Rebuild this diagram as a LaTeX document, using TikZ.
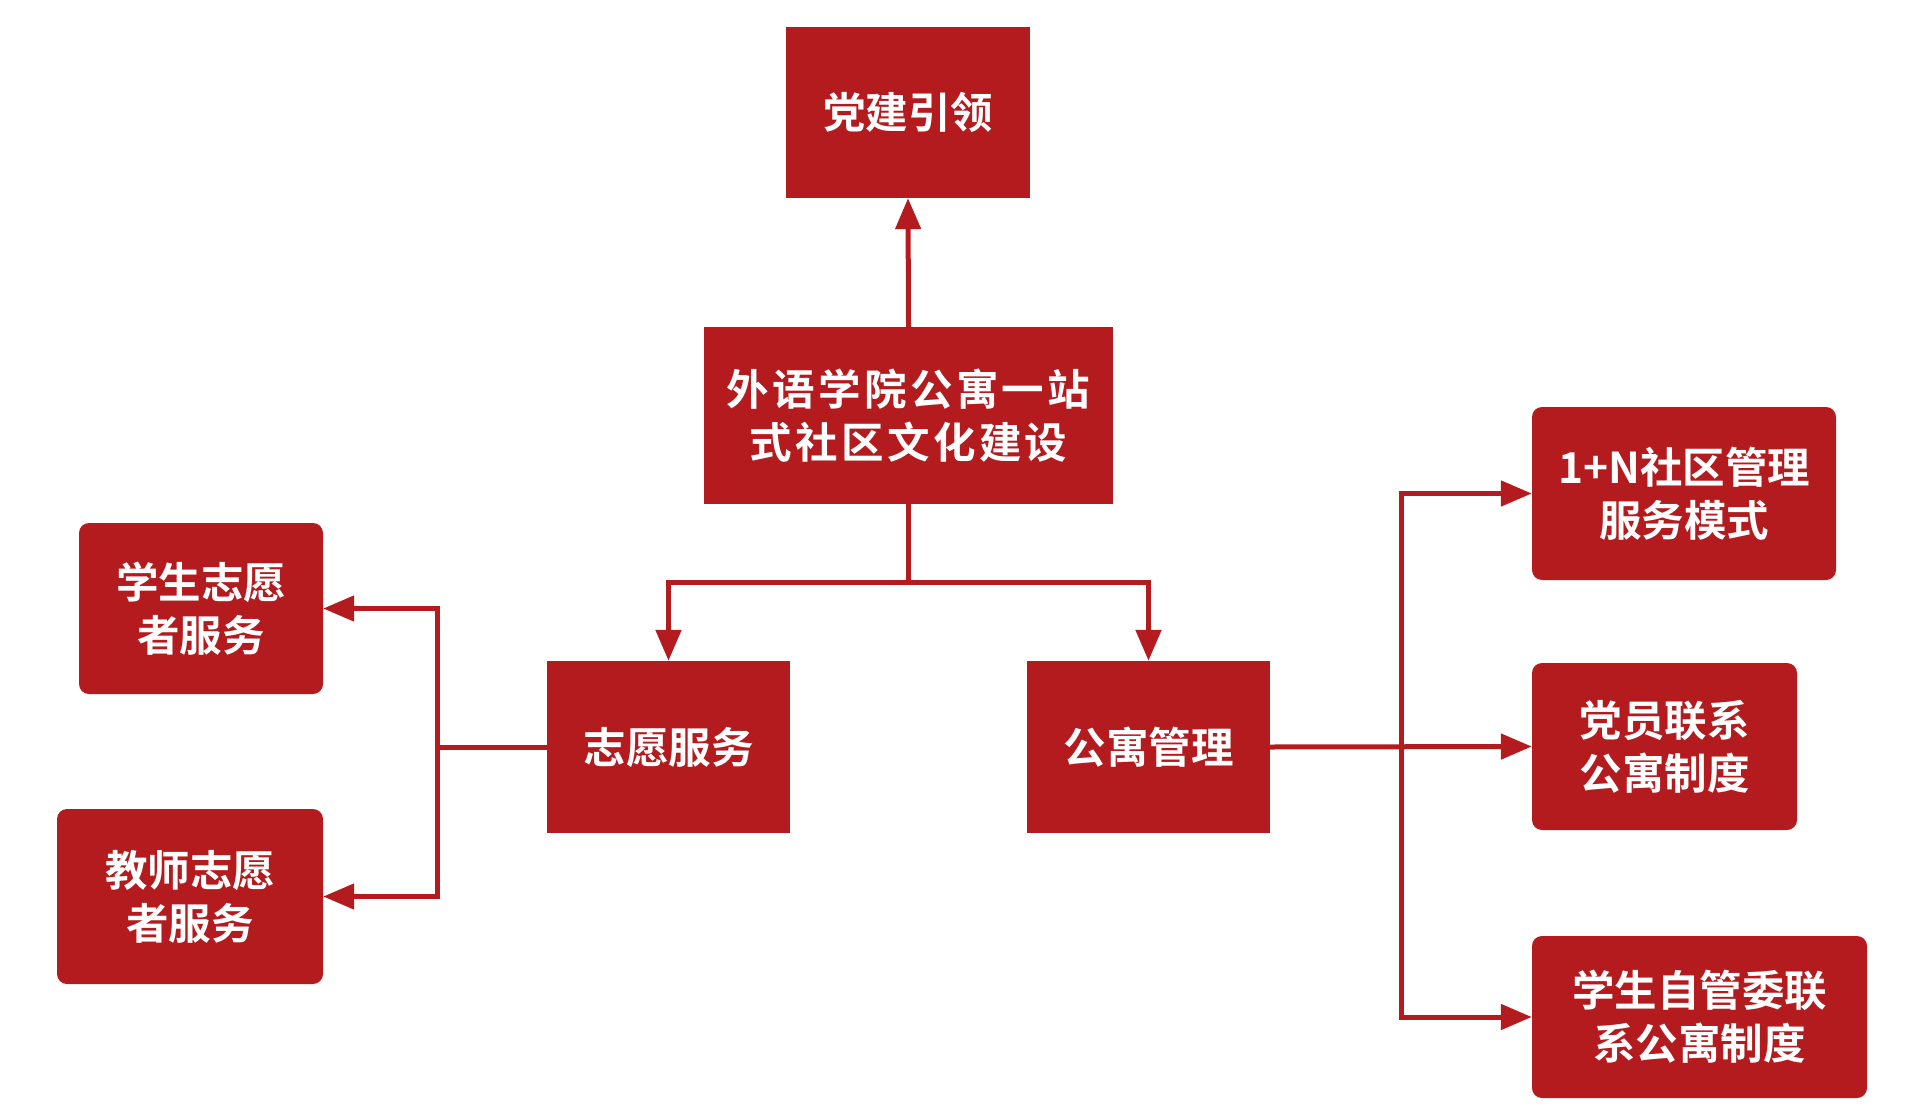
\documentclass[tikz,border=0pt]{standalone}
\usepackage{fontspec}
\newfontfamily\cjk{Noto Sans CJK SC Bold}
\usetikzlibrary{arrows.meta}
\definecolor{boxred}{RGB}{179,27,30}
\tikzset{
  box/.style={fill=boxred, draw=none, text=white, align=center, inner sep=0pt,
    font=\cjk\fontsize{42.5}{53}\selectfont},
  sqbox/.style={box},
  rbox/.style={box, rounded corners=10pt},
  conn/.style={draw=boxred, line width=5pt},
  arr/.style={conn, -{Triangle[length=31pt,width=25pt]}},
}
\begin{document}
\begin{tikzpicture}[x=1pt,y=-1pt]
\useasboundingbox (0,0) rectangle (1926,1110);
\node[sqbox, minimum width=244pt, minimum height=171pt] (lead) at (908,112.5) {党建引领};
\node[sqbox, minimum width=409pt, minimum height=177pt] (main) at (908.5,415.5)
  {\addfontfeature{LetterSpace=8}外语学院公寓一站\\\addfontfeature{LetterSpace=8}式社区文化建设};
\node[sqbox, minimum width=243pt, minimum height=172pt] (vol) at (668.5,747) {志愿服务};
\node[sqbox, minimum width=243pt, minimum height=172pt] (apt) at (1148.5,747) {公寓管理};
\node[rbox, minimum width=244pt, minimum height=171pt] (sv) at (201,608.5) {学生志愿\\者服务};
\node[rbox, minimum width=266pt, minimum height=175pt] (tv) at (190,896.5) {教师志愿\\者服务};
\node[rbox, minimum width=304pt, minimum height=173pt] (r1) at (1684,493.5) {1+N社区管理\\服务模式};
\node[rbox, minimum width=265pt, minimum height=167pt] (r2) at (1664.5,746.5) {党员联系\\公寓制度};
\node[rbox, minimum width=335pt, minimum height=162pt] (r3) at (1699.5,1017) {学生自管委联\\系公寓制度};
\coordinate (mj) at (908.5,582);
\coordinate (lj) at (437,747);
\coordinate (rj) at (1401,746.5);
% connectors
\draw[arr] (main.north) -- (lead.south);
\draw[conn] (main.south) -- (mj);
\draw[arr] (mj) -| (vol.north);
\draw[arr] (mj) -| (apt.north);
\draw[conn] (vol.west) -- (lj);
\draw[arr] (lj) |- (sv.east);
\draw[arr] (lj) |- (tv.east);
\draw[arr] (apt.east) -- (r2.west);
\draw[arr] (rj) |- (r1.west);
\draw[arr] (rj) |- (r3.west);
\end{tikzpicture}
\end{document}
